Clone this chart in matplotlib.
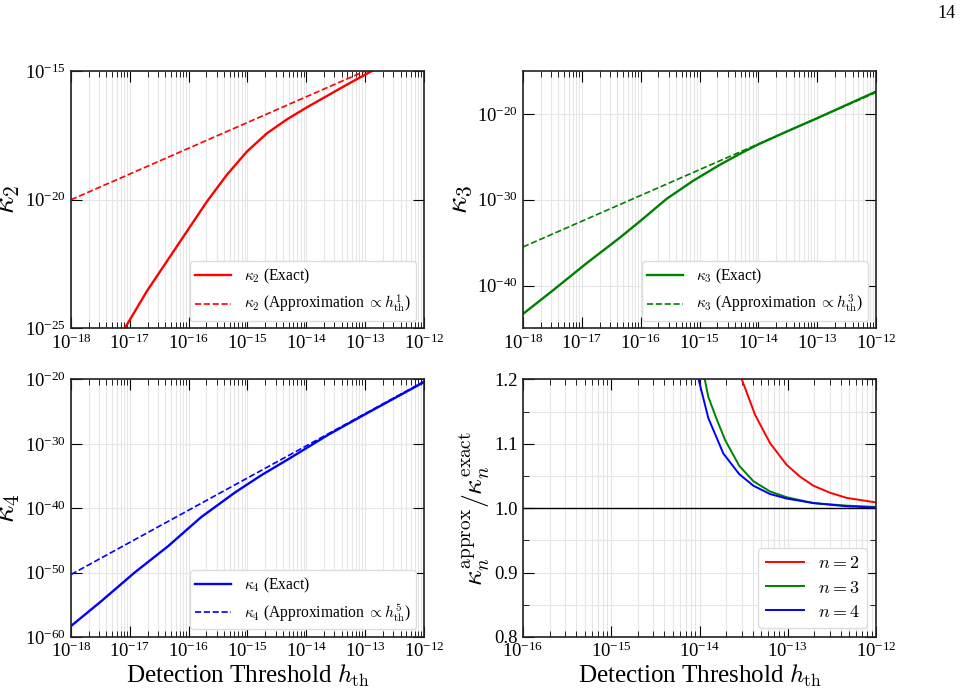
import numpy as np
import matplotlib
matplotlib.use("Agg")
import matplotlib.pyplot as plt
from matplotlib.ticker import LogLocator, NullLocator, MultipleLocator, NullFormatter

# ---- data (log10 values) ----
# kappa_2
k2_exact_logh = [-17.2, -17.08, -16.71, -16.37, -16.03, -15.69, -15.35, -15.01, -14.67,
                 -14.33, -13.99, -13.65, -13.31, -12.92, -12.5]
k2_exact_logk = [-25.45, -24.97, -23.55, -22.39, -21.23, -20.07, -19.03, -18.13, -17.42,
                 -16.88, -16.41, -15.97, -15.53, -15.04, -14.57]
k2_approx_logh = [-18, -17, -16, -15, -14, -13, -12]
k2_approx_logk = [-20, -19, -18, -17, -16, -15, -14]

# kappa_3
k3_exact_logh = [-18.0, -17.48, -16.92, -16.35, -16.01, -15.56, -15.11, -14.66, -14.3,
                 -14.0, -13.5, -13.0, -12.5, -12.0]
k3_exact_logk = [-43.3, -40.5, -37.4, -34.4, -32.5, -29.9, -27.8, -25.95, -24.6,
                 -23.55, -22.0, -20.5, -18.95, -17.4]
k3_approx_logh = [-18, -17, -16, -15, -14, -13, -12]
k3_approx_logk = [-35.5, -32.5, -29.5, -26.5, -23.5, -20.5, -17.5]

# kappa_4
k4_exact_logh = [-18.0, -17.48, -16.92, -16.35, -15.79, -15.22, -14.77, -14.31, -13.63,
                 -13.0, -12.5, -12.0]
k4_exact_logk = [-58.3, -54.4, -50.0, -45.9, -41.4, -37.6, -34.9, -32.4, -28.6,
                 -25.4, -22.9, -20.4]
k4_approx_logh = [-18, -17, -16, -15, -14, -13, -12]
k4_approx_logk = [-50.3, -45.3, -40.3, -35.3, -30.3, -25.3, -20.3]

# ratio kappa_approx / kappa_exact
r2_logh = [-13.52, -13.37, -13.20, -13.01, -12.86, -12.71, -12.52, -12.33, -12.0]
r2_val = [1.2, 1.145, 1.101, 1.067, 1.049, 1.035, 1.024, 1.016, 1.009]
r3_logh = [-13.94, -13.90, -13.81, -13.71, -13.55, -13.39, -13.20, -13.01, -12.71, -12.33, -12.0]
r3_val = [1.2, 1.173, 1.14, 1.106, 1.066, 1.042, 1.026, 1.017, 1.008, 1.004, 1.002]
r4_logh = [-14.01, -13.90, -13.73, -13.55, -13.39, -13.20, -13.01, -12.71, -12.33, -12.0]
r4_val = [1.2, 1.140, 1.085, 1.053, 1.035, 1.022, 1.015, 1.008, 1.003, 1.001]

plt.rcParams["font.family"] = "serif"
plt.rcParams["font.serif"] = ["Liberation Serif", "DejaVu Serif"]
plt.rcParams["mathtext.fontset"] = "cm"
plt.rcParams["xtick.direction"] = "in"
plt.rcParams["ytick.direction"] = "in"
plt.rcParams["xtick.top"] = True
plt.rcParams["ytick.right"] = True
plt.rcParams["xtick.major.size"] = 8
plt.rcParams["ytick.major.size"] = 8
plt.rcParams["xtick.minor.size"] = 4.5
plt.rcParams["ytick.minor.size"] = 4.5
plt.rcParams["xtick.labelsize"] = 13.5
plt.rcParams["ytick.labelsize"] = 13.5
plt.rcParams["axes.linewidth"] = 1.2
plt.rcParams["axes.edgecolor"] = "#222222"

fig, axes = plt.subplots(2, 2, figsize=(9.62, 6.96), dpi=100)
fig.subplots_adjust(left=0.0738, right=0.9106, top=0.898, bottom=0.0848, wspace=0.2805, hspace=0.198)

def style_log(ax, ylim, yticks):
    ax.set_xscale("log")
    ax.set_yscale("log")
    ax.set_xlim(1e-18, 1e-12)
    ax.set_ylim(*ylim)
    ax.set_yticks(yticks)
    ax.yaxis.set_minor_locator(NullLocator())
    ax.xaxis.set_major_locator(LogLocator(base=10, numticks=20))
    ax.xaxis.set_minor_locator(LogLocator(base=10, subs=np.arange(2, 10), numticks=100))
    ax.xaxis.set_minor_formatter(NullFormatter())
    ax.grid(True, which="major", color="#e6e6e6", lw=0.8)
    ax.grid(True, which="minor", axis="x", color="#e6e6e6", lw=0.8)
    ax.set_axisbelow(True)

panels = [
    (axes[0, 0], "red", k2_exact_logh, k2_exact_logk, k2_approx_logh, k2_approx_logk, 2, 1,
     (1e-25, 1e-15), [1e-25, 1e-20, 1e-15]),
    (axes[0, 1], "green", k3_exact_logh, k3_exact_logk, k3_approx_logh, k3_approx_logk, 3, 3,
     (1e-45, 1e-15), [1e-40, 1e-30, 1e-20]),
    (axes[1, 0], "blue", k4_exact_logh, k4_exact_logk, k4_approx_logh, k4_approx_logk, 4, 5,
     (1e-60, 1e-20), [1e-60, 1e-50, 1e-40, 1e-30, 1e-20]),
]

for ax, c, xe, ye, xa, ya, n, p, ylim, yt in panels:
    style_log(ax, ylim, yt)
    ax.plot(10.0 ** np.array(xe), 10.0 ** np.array(ye), color=c, lw=1.7,
            label=r"$\kappa_%d$ (Exact)" % n)
    ax.plot(10.0 ** np.array(xa), 10.0 ** np.array(ya), color=c, lw=1.2, ls="--",
            label=r"$\kappa_%d$ (Approximation $\propto h_{\rm th}^{%d}$)" % (n, p))
    ax.set_ylabel(r"$\kappa_%d$" % n, fontsize=22, labelpad=2)
    ax.legend(loc="lower right", fontsize=11.2, fancybox=True, framealpha=1,
              edgecolor="#dddddd", handlelength=2.3, borderpad=0.35,
              labelspacing=0.45, handletextpad=0.8)

# ratio panel
ax = axes[1, 1]
ax.set_xscale("log")
ax.set_xlim(1e-16, 1e-12)
ax.set_ylim(0.8, 1.2)
ax.yaxis.set_major_locator(MultipleLocator(0.1))
ax.yaxis.set_minor_locator(MultipleLocator(0.05))
ax.xaxis.set_minor_locator(LogLocator(base=10, subs=np.arange(2, 10), numticks=100))
ax.xaxis.set_minor_formatter(NullFormatter())
ax.grid(True, which="both", color="#e6e6e6", lw=0.8)
ax.set_axisbelow(True)
ax.axhline(1.0, color="black", lw=1.0)
ax.plot(10.0 ** np.array(r2_logh), r2_val, color="red", lw=1.4, label=r"$n=2$")
ax.plot(10.0 ** np.array(r3_logh), r3_val, color="green", lw=1.4, label=r"$n=3$")
ax.plot(10.0 ** np.array(r4_logh), r4_val, color="blue", lw=1.4, label=r"$n=4$")
ylab = ax.set_ylabel(r"$\kappa_n^{\rm approx}/\kappa_n^{\rm exact}$", fontsize=20, labelpad=2)
ax.legend(loc="lower right", fontsize=13, fancybox=True, framealpha=1,
          edgecolor="#dddddd", handlelength=2.1, borderpad=0.4,
          labelspacing=0.4, handletextpad=0.8)

for a in axes[1, :]:
    a.set_xlabel(r"Detection Threshold $h_{\rm th}$", fontsize=18, labelpad=1)

fig.text(0.993, 0.981, "14", fontsize=13, ha="right", va="center")

# the ratio label in the reference is about 150 px long; scale font to match
r = fig.canvas.get_renderer()
h = ylab.get_window_extent(r).height
ylab.set_fontsize(20 * 155.0 / h)

fig.savefig("out.png", dpi=100)
